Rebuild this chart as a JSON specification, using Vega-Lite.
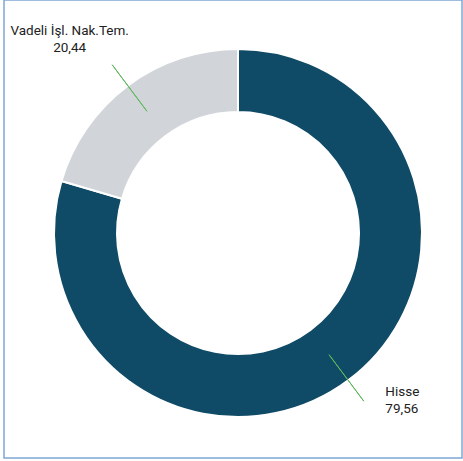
{
  "$schema": "https://vega.github.io/schema/vega-lite/v6.json",
  "width": 463,
  "height": 461,
  "autosize": {"type": "fit", "contains": "padding"},
  "padding": {"left": 4, "top": 0, "right": 1, "bottom": 3},
  "background": "white",
  "view": {"stroke": "#7fa6d2", "strokeWidth": 1.5, "fill": "white"},
  "config": {
    "view": {"stroke": "#7fa6d2", "strokeWidth": 1.5},
    "locale": {"number": {"decimal": ",", "thousands": ".", "grouping": [3], "currency": ["", " TL"]}},
    "font": "Roboto"
  },
  "data": {
    "values": [
      {"cat": "Hisse", "value": 79.56},
      {"cat": "Vadeli İşl.  Nak.Tem.", "value": 20.44}
    ]
  },
  "transform": [
    {"window": [{"op": "sum", "field": "value", "as": "cum"}]},
    {"calculate": "datum.cum - datum.value / 2", "as": "mid"},
    {"calculate": "datum.cat + '\\n' + format(datum.value, '.2f')", "as": "label"}
  ],
  "layer": [
    {
      "mark": {"type": "arc", "outerRadius": 184, "innerRadius": 121, "stroke": "white", "strokeWidth": 2, "x": {"expr": "width/2+5"}, "y": {"expr": "height/2+4"}},
      "encoding": {
        "theta": {"field": "value", "type": "quantitative", "stack": true, "scale": {"domain": [0, 100]}},
        "color": {"field": "cat", "type": "nominal", "scale": {"domain": ["Hisse", "Vadeli İşl.  Nak.Tem."], "range": ["#0f4a66", "#d1d5da"]}, "legend": null}
      }
    },
    {
      "mark": {"type": "arc", "radius": 152, "radius2": 210, "stroke": "#5cb85c", "strokeWidth": 1, "fill": null, "x": {"expr": "width/2+5"}, "y": {"expr": "height/2+4"}},
      "encoding": {
        "theta": {"field": "mid", "type": "quantitative", "stack": null, "scale": {"domain": [0, 100]}},
        "theta2": {"field": "mid"}
      }
    },
    {
      "transform": [{"filter": "datum.cat == 'Hisse'"}],
      "mark": {"type": "text", "radius": 221, "align": "left", "baseline": "middle", "lineBreak": "\n", "fontSize": 13.5, "color": "#222", "dx": 20, "dy": -14, "lineHeight": 17},
      "encoding": {
        "theta": {"field": "mid", "type": "quantitative", "stack": null, "scale": {"domain": [0, 100]}},
        "text": {"field": "label"}
      }
    },
    {
      "transform": [{"filter": "datum.cat != 'Hisse'"}],
      "mark": {"type": "text", "radius": 221, "align": "center", "baseline": "middle", "lineBreak": "\n", "fontSize": 13.5, "color": "#222", "dx": -31, "dy": -21, "lineHeight": 17},
      "encoding": {
        "theta": {"field": "mid", "type": "quantitative", "stack": null, "scale": {"domain": [0, 100]}},
        "text": {"field": "label"}
      }
    }
  ]
}
